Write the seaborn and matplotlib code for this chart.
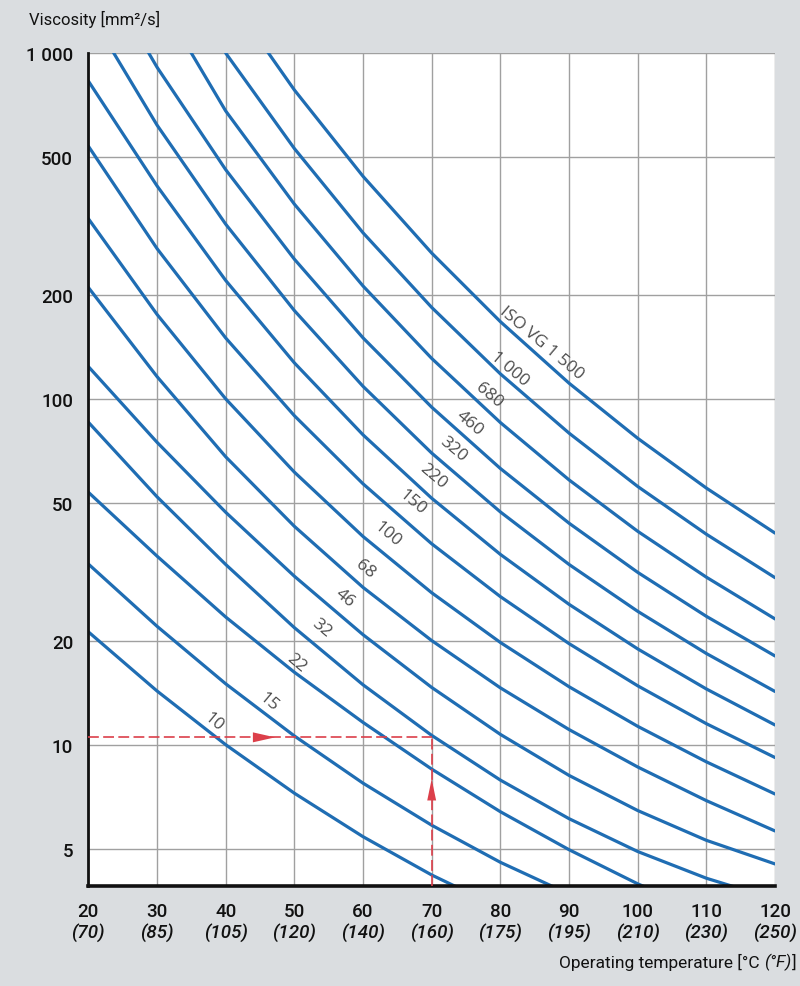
import numpy as np
import pandas as pd
import matplotlib
matplotlib.use("Agg")
import matplotlib.pyplot as plt
from matplotlib.ticker import NullLocator
import seaborn as sns

nan = np.nan
temps = [20, 30, 40, 50, 60, 70, 80, 90, 100, 110, 120]
vg10 = [21.2, 14.3, 10.0, 7.24, 5.42, 4.20, 3.37, nan, nan, nan, nan]
vg15 = [33.3, 22.0, 15.0, 10.6, 7.74, 5.85, 4.57, 3.70, nan, nan, nan]
vg22 = [53.7, 35.1, 23.4, 16.2, 11.6, 8.5, 6.4, 4.97, 3.96, 3.25, nan]
vg32 = [85.6, 52.1, 33.2, 21.8, 14.9, 10.64, 7.90, 6.11, 4.91, 4.11, 3.57]
vg46 = [124, 74.9, 47.0, 30.7, 20.8, 14.64, 10.71, 8.15, 6.45, 5.29, 4.52]
vg68 = [210, 116, 68, 42.8, 28.5, 20.0, 14.6, 11.06, 8.62, 6.89, 5.63]
vg100 = [332, 175.5, 100, 61.4, 40.0, 27.5, 19.75, 14.71, 11.30, 8.92, 7.2]
vg150 = [538, 272, 150, 89.4, 56.8, 38.1, 26.8, 19.6, 14.8, 11.5, 9.18]
vg220 = [830, 413, 220, 127.1, 78.7, 51.6, 35.5, 25.46, 18.92, 14.49, 11.4]
vg320 = [1325, 619, 320, 180.0, 108.7, 69.7, 47.1, 33.2, 24.3, 18.35, 14.25]
vg460 = [1992, 910, 460, 253.5, 150.1, 94.6, 62.9, 43.7, 31.5, 23.5, 18.05]
vg680 = [nan, 1470, 680, 365.7, 212.0, 130.9, 85.4, 58.3, 41.4, 30.5, 23.1]
vg1000 = [nan, nan, 1000, 529.5, 302.1, 183.8, 118.1, 79.6, 55.8, 40.6, 30.4]
vg1500 = [nan, nan, 1500, 782, 440, 264, 167.2, 111.0, 76.9, 55.2, 40.9]

curves = [vg10, vg15, vg22, vg32, vg46, vg68, vg100, vg150, vg220,
          vg320, vg460, vg680, vg1000, vg1500]
grades = ["10", "15", "22", "32", "46", "68", "100", "150", "220",
          "320", "460", "680", "1 000", "ISO VG 1 500"]

# Posición de las etiquetas de cada curva (°C, mm²/s)
label_temp = [38.2, 46.2, 50.3, 54.0, 57.3, 60.3, 63.5, 67.2, 70.2,
              73.1, 75.6, 78.4, 81.4, 86.0]
label_visc = [11.7, 13.3, 17.3, 21.9, 26.7, 32.4, 40.7, 50.4, 60.0,
              71.9, 85.2, 102.6, 122.6, 145.8]

y_ticks = [5, 10, 20, 50, 100, 200, 500, 1000]
y_tick_labels = ["5", "10", "20", "50", "100", "200", "500", "1 000"]
f_labels = ["(70)", "(85)", "(105)", "(120)", "(140)", "(160)", "(175)",
            "(195)", "(210)", "(230)", "(250)"]

# Ejemplo de lectura: 70 °C -> 10,5 mm²/s
ex_temp = 70
ex_visc = 10.5

rows = []
for g, vals in zip(grades, curves):
    for t, v in zip(temps, vals):
        rows.append({"grade": g, "temp": t, "visc": v})
df = pd.DataFrame(rows).dropna()

sns.set_style("white")
plt.rcParams["font.family"] = ["Roboto", "DejaVu Sans"]
plt.rcParams["font.weight"] = "medium"

bg = "#dadde0"
blue = "#1f6db3"
red = "#dc3f4a"
ink = "#111111"

fig = plt.figure(figsize=(8, 9.87), dpi=100, facecolor=bg)
ax = fig.add_axes([0.1104, 0.1016, 0.8584, 0.8437])
ax.set_facecolor("white")

sns.lineplot(data=df, x="temp", y="visc", units="grade", estimator=None,
             color=blue, lw=2.3, sort=False, ax=ax, zorder=2)

ax.set_yscale("log")
ax.set_xlim(20, 120)
ax.set_ylim(3.91, 1000)
ax.set_yticks(y_ticks)
ax.set_yticklabels(y_tick_labels)
ax.yaxis.set_minor_locator(NullLocator())
ax.set_xticks(temps)
ax.set_xticklabels([str(t) for t in temps])
ax.set_xlabel("")
ax.set_ylabel("")

ax.grid(True, color="#a0a0a0", lw=1.0)
ax.set_axisbelow(True)
for s in ["top", "right"]:
    ax.spines[s].set_visible(False)
ax.spines["left"].set_linewidth(2.0)
ax.spines["bottom"].set_linewidth(2.6)
ax.spines["left"].set_color(ink)
ax.spines["bottom"].set_color(ink)
ax.tick_params(axis="both", direction="out", length=6, width=1.3,
               color=ink, labelsize=13.5, labelcolor=ink)
ax.tick_params(axis="x", pad=6)
ax.tick_params(axis="y", pad=5)

# Segunda línea de las etiquetas del eje x, en °F y cursiva
for t, f in zip(temps, f_labels):
    ax.text(t, -0.0545, f, transform=ax.get_xaxis_transform(), ha="center",
            va="center", fontsize=13.5, style="italic", color=ink)

# Etiquetas de las curvas
for txt, t, v in zip(grades, label_temp, label_visc):
    ax.text(t, v, txt, rotation=-40, rotation_mode="anchor", ha="center",
            va="center", fontsize=12.5, color="#4d4d4d", fontweight="normal",
            family=["Open Sans", "DejaVu Sans"], zorder=4)

# Líneas de lectura del ejemplo
dash = dict(color=red, lw=1.2, dashes=(6.5, 2.6), zorder=3)
ax.plot([20, ex_temp], [ex_visc, ex_visc], **dash)
ax.plot([ex_temp, ex_temp], [3.91, ex_visc], **dash)
ax.annotate("", xy=(47.2, ex_visc), xytext=(43.9, ex_visc),
            arrowprops=dict(arrowstyle="-|>,head_length=1.6,head_width=0.36",
                            color=red, lw=0, shrinkA=0, shrinkB=0,
                            mutation_scale=10), zorder=4)
ax.annotate("", xy=(ex_temp, 7.96), xytext=(ex_temp, 6.89),
            arrowprops=dict(arrowstyle="-|>,head_length=1.55,head_width=0.32",
                            color=red, lw=0, shrinkA=0, shrinkB=0,
                            mutation_scale=10), zorder=4)

# Títulos de los ejes
title_kw = dict(color=ink, fontweight="normal")
fig.text(29 / 800, 1 - 19 / 987, "Viscosity [mm²/s]", ha="left", va="center",
         fontsize=12, **title_kw)
t_end = fig.text(796 / 800, 1 - 971 / 987, "]", ha="right", va="bottom",
                 fontsize=12.5, **title_kw)
t_f = ax.annotate("(°F)", xy=(0, 0), xycoords=t_end, ha="right", va="bottom",
                  fontsize=12.5, style="italic", annotation_clip=False,
                  **title_kw)
ax.annotate("Operating temperature [°C", xy=(0, 0), xycoords=t_f,
            xytext=(-3, 0), textcoords="offset points", ha="right",
            va="bottom", fontsize=12.5, annotation_clip=False, **title_kw)

fig.savefig("out.png", dpi=100, facecolor=bg)
